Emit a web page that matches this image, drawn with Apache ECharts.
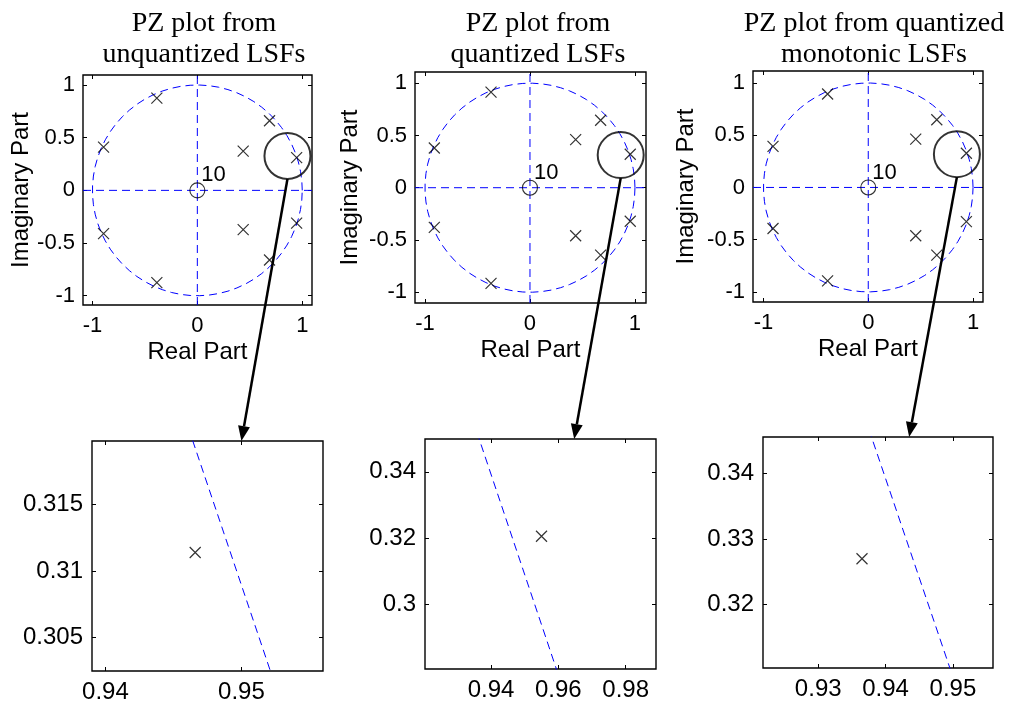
<!DOCTYPE html>
<html>
<head>
<meta charset="utf-8">
<script src="https://cdn.jsdelivr.net/npm/echarts@6/dist/echarts.min.js"></script>
<style>
  html, body { margin: 0; padding: 0; background: #fff; }
  #chart { width: 1010px; height: 705px; }
</style>
</head>
<body>
<div id="chart"></div>
<script>
// Panel titles
const titles = [
  'PZ plot from\nunquantized LSFs',
  'PZ plot from\nquantized LSFs',
  'PZ plot from quantized\nmonotonic LSFs'
];

// Poles of the three LPC synthesis filters (conjugate pairs)
const polesUnquantized = [
  [-0.386, 0.876], [-0.386, -0.876],
  [0.688, 0.661], [0.688, -0.661],
  [0.437, 0.372], [0.437, -0.372],
  [0.9466, 0.3114], [0.9466, -0.3114],
  [-0.894, 0.411], [-0.894, -0.411]
];
const polesQuantized = [
  [-0.371, 0.915], [-0.371, -0.915],
  [0.673, 0.645], [0.673, -0.645],
  [0.435, 0.46], [0.435, -0.46],
  [0.955, 0.3205], [0.955, -0.3205],
  [-0.911, 0.38], [-0.911, -0.38]
];
const polesMonotonic = [
  [-0.388, 0.895], [-0.388, -0.895],
  [0.654, 0.648], [0.654, -0.648],
  [0.453, 0.463], [0.453, -0.463],
  [0.9365, 0.327], [0.9365, -0.327],
  [-0.909, 0.393], [-0.909, -0.393]
];
const poleSets = [polesUnquantized, polesQuantized, polesMonotonic];

// All zeros sit at the origin
const zeroLocation = [0, 0];
const zeroCount = 10;

// Tick values
const overviewXTicks = [-1, 0, 1];
const overviewYTicks = [-1, -0.5, 0, 0.5, 1];
const detailXTicks = [[0.94, 0.95], [0.94, 0.96, 0.98], [0.93, 0.94, 0.95]];
const detailYTicks = [[0.305, 0.31, 0.315], [0.3, 0.32, 0.34], [0.32, 0.33, 0.34]];

// Axis ranges
const overviewXRange = [[-1.09, 1.093], [-1.095, 1.105], [-1.10, 1.095]];
const overviewYRange = [[-1.088, 1.095], [-1.103, 1.107], [-1.097, 1.115]];
const detailXRange = [[0.93901, 0.9560], [0.9204, 0.989], [0.9218, 0.95595]];
const detailYRange = [[0.30249, 0.31978], [0.2804, 0.3499], [0.31032, 0.34559]];

// Magnified region markers (data coordinates) and where the arrows land
const focusCenters = [[0.859, 0.327], [0.864, 0.312], [0.846, 0.319]];
const arrowTargetX = [0.95, 0.9647, 0.9435];

// Unit circle as drawn by zplane: a 70-vertex polygon
const circleVertices = 70;
const unitCircle = [];
for (let k = 0; k < circleVertices; k++) {
  const t = 2 * Math.PI * k / (circleVertices - 1);
  unitCircle.push([Math.cos(t), Math.sin(t)]);
}

const SANS = 'Liberation Sans, Arial, sans-serif';
const SERIF = 'Liberation Serif, Times New Roman, serif';
const BLUE = '#0000ff';
const DASH = [8, 5];
const CROSS = 'path://M0,0L10,10M10,0L0,10';

const grids = [
  { left: 83, top: 75, width: 229, height: 230 },
  { left: 415, top: 72, width: 231, height: 231 },
  { left: 753, top: 71, width: 230, height: 231 },
  { left: 92, top: 441, width: 231, height: 230 },
  { left: 425, top: 439, width: 231, height: 230 },
  { left: 763, top: 437, width: 230, height: 231 }
].map(g => Object.assign({ show: true, borderColor: '#000', borderWidth: 1.4, backgroundColor: 'transparent' }, g));

const yNameGaps = [49, 53, 55];
const fmt = v => String(+(+v).toFixed(4));

const xAxes = [], yAxes = [], series = [];

function addAxes(gi, xr, yr, xt, yt, opts) {
  const tick = vals => ({ show: true, inside: true, length: 4, customValues: vals, lineStyle: { color: '#000', width: 1 } });
  const line = { show: false, onZero: false };
  xAxes.push({
    gridIndex: gi, type: 'value', min: xr[0], max: xr[1], position: 'bottom',
    axisLine: line, splitLine: { show: false },
    axisTick: tick(xt),
    axisLabel: { customValues: xt, formatter: fmt, margin: opts.xMargin, fontSize: opts.fontSize, fontFamily: SANS, color: '#000' },
    name: opts.xName || '', nameLocation: 'middle', nameGap: 35,
    nameTextStyle: { fontSize: 24, fontFamily: SANS, color: '#000' }
  });
  xAxes.push({
    gridIndex: gi, type: 'value', min: xr[0], max: xr[1], position: 'top',
    axisLine: line, splitLine: { show: false },
    axisTick: tick(xt), axisLabel: { show: false }
  });
  yAxes.push({
    gridIndex: gi, type: 'value', min: yr[0], max: yr[1], position: 'left',
    axisLine: line, splitLine: { show: false },
    axisTick: tick(yt),
    axisLabel: { customValues: yt, formatter: fmt, margin: opts.yMargin, fontSize: opts.fontSize, fontFamily: SANS, color: '#000' },
    name: opts.yName || '', nameLocation: 'middle', nameGap: opts.yNameGap || 40,
    nameTextStyle: { fontSize: 24, fontFamily: SANS, color: '#000' }
  });
  yAxes.push({
    gridIndex: gi, type: 'value', min: yr[0], max: yr[1], position: 'right',
    axisLine: line, splitLine: { show: false },
    axisTick: tick(yt), axisLabel: { show: false }
  });
}

function addPlotSeries(gi, poles, xr, yr, overview) {
  const ax = { xAxisIndex: gi * 2, yAxisIndex: gi * 2 };
  const dashed = { color: BLUE, width: 1, type: DASH };
  if (overview) {
    series.push(Object.assign({ type: 'line', data: [[xr[0], 0], [xr[1], 0]], symbol: 'none', lineStyle: dashed, silent: true, z: 1 }, ax));
    series.push(Object.assign({ type: 'line', data: [[0, yr[0]], [0, yr[1]]], symbol: 'none', lineStyle: dashed, silent: true, z: 1 }, ax));
  }
  series.push(Object.assign({ type: 'line', data: unitCircle, symbol: 'none', lineStyle: dashed, clip: true, silent: true, z: 2 }, ax));
  series.push(Object.assign({
    type: 'scatter', data: poles, symbol: CROSS, symbolSize: 11, clip: true, z: 3,
    itemStyle: { color: 'none', borderColor: '#000', borderWidth: 1.2 }
  }, ax));
  if (overview) {
    series.push(Object.assign({
      type: 'scatter', data: [zeroLocation], symbol: 'circle', symbolSize: 15, z: 3,
      itemStyle: { color: 'transparent', borderColor: '#000', borderWidth: 1.1 }
    }, ax));
    series.push(Object.assign({
      type: 'scatter', data: [focusCenters[gi]], symbol: 'circle', symbolSize: 46, z: 5, clip: false,
      itemStyle: { color: 'transparent', borderColor: '#000', borderWidth: 2 }
    }, ax));
  }
}

for (let i = 0; i < 3; i++) {
  addAxes(i, overviewXRange[i], overviewYRange[i], overviewXTicks, overviewYTicks,
    { fontSize: 22, xMargin: 10, yMargin: 8, xName: 'Real Part', yName: 'Imaginary Part', yNameGap: yNameGaps[i] });
  addPlotSeries(i, poleSets[i], overviewXRange[i], overviewYRange[i], true);
}
for (let i = 0; i < 3; i++) {
  addAxes(i + 3, detailXRange[i], detailYRange[i], detailXTicks[i], detailYTicks[i],
    { fontSize: 24, xMargin: 9, yMargin: 9 });
  addPlotSeries(i + 3, poleSets[i], detailXRange[i], detailYRange[i], false);
}

const titleCenters = [199, 533, 869];
const titleOpts = titles.map((t, i) => ({
  text: t, left: titleCenters[i], top: 3, textAlign: 'center',
  textStyle: { fontSize: 28, lineHeight: 31, fontFamily: SERIF, fontWeight: 'normal', color: '#000' }
}));

const chart = echarts.init(document.getElementById('chart'), null, { renderer: 'canvas' });
chart.setOption({
  animation: false,
  backgroundColor: '#fff',
  title: titleOpts,
  grid: grids,
  xAxis: xAxes,
  yAxis: yAxes,
  series: series
});

const graphics = [];
for (let i = 0; i < 3; i++) {
  // Multiplicity of the zeros at the origin
  const z = chart.convertToPixel({ gridIndex: i }, zeroLocation);
  graphics.push({
    type: 'text', z: 10, x: z[0] + 4, y: z[1] - 4,
    style: { text: String(zeroCount), fill: '#000', font: '22px ' + SANS, textAlign: 'left', textVerticalAlign: 'bottom' }
  });

  // Arrow from the magnifier circle down to its detail panel
  const c = chart.convertToPixel({ gridIndex: i }, focusCenters[i]);
  const start = [c[0], c[1] + 23];
  const tip = chart.convertToPixel({ gridIndex: i + 3 }, [arrowTargetX[i], detailYRange[i][1]]);
  const dx = tip[0] - start[0], dy = tip[1] - start[1];
  const len = Math.sqrt(dx * dx + dy * dy);
  const ux = dx / len, uy = dy / len;
  const headLen = 15, headHalf = 6;
  const base = [tip[0] - ux * headLen, tip[1] - uy * headLen];
  graphics.push({
    type: 'line', z: 10,
    shape: { x1: start[0], y1: start[1], x2: base[0], y2: base[1] },
    style: { stroke: '#000', lineWidth: 2.5 }
  });
  graphics.push({
    type: 'polygon', z: 10,
    shape: { points: [tip, [base[0] - uy * headHalf, base[1] + ux * headHalf], [base[0] + uy * headHalf, base[1] - ux * headHalf]] },
    style: { fill: '#000' }
  });
}
chart.setOption({ graphic: graphics });
</script>
</body>
</html>
